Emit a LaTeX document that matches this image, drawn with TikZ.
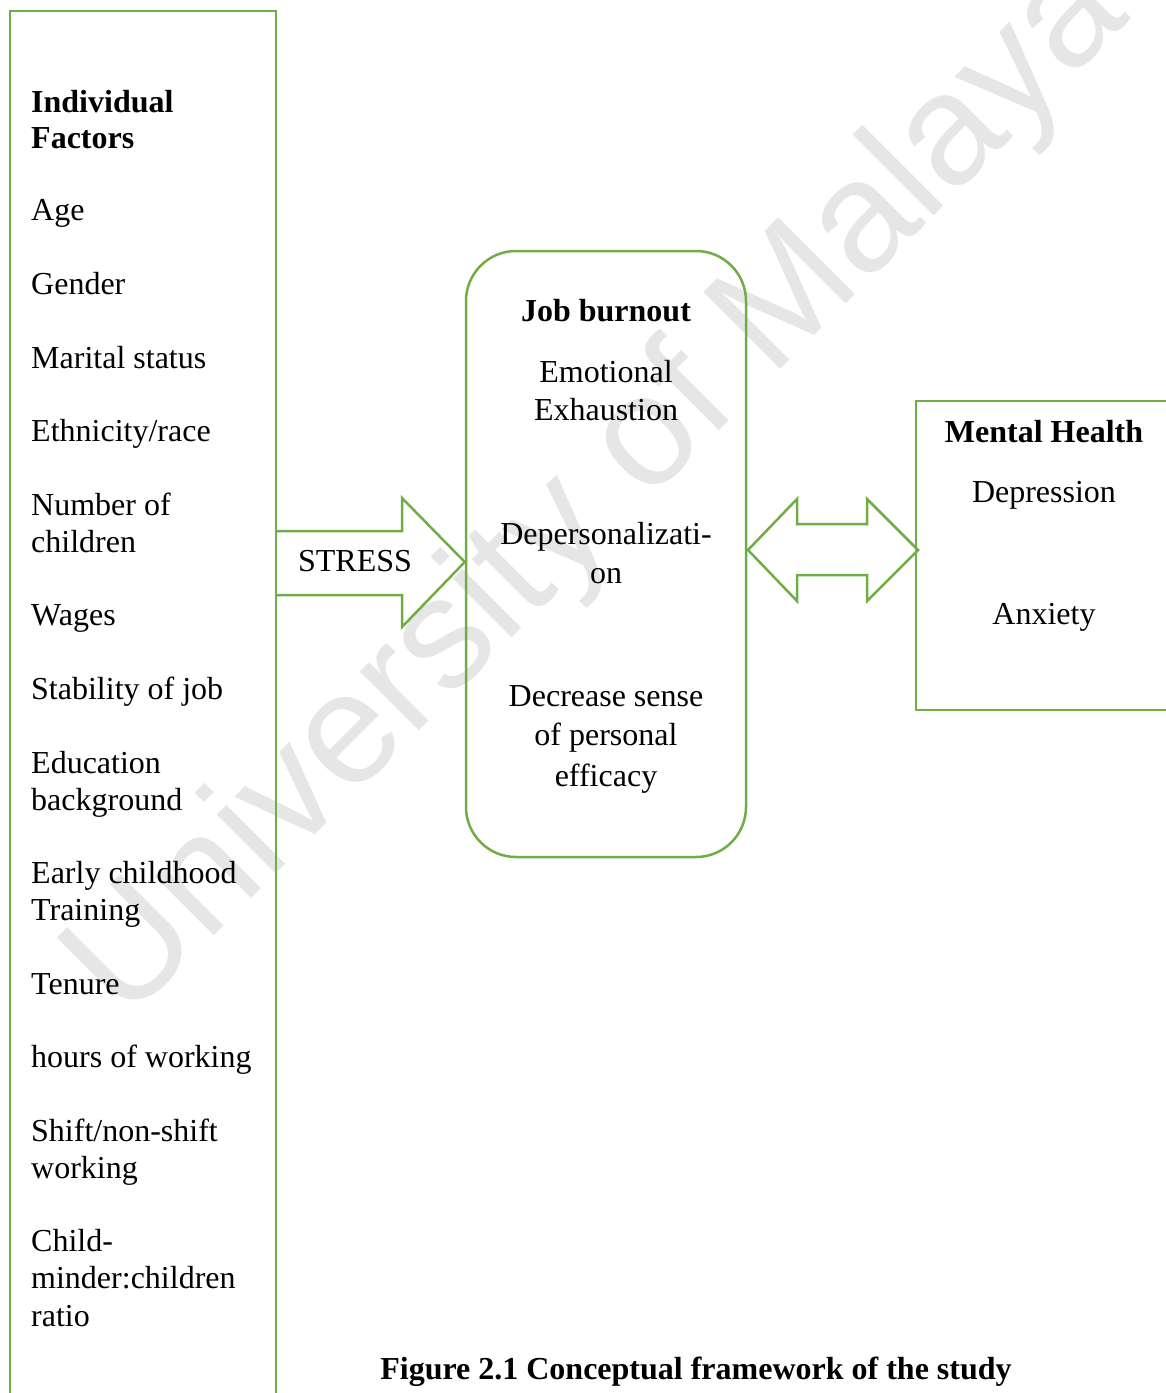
\documentclass[tikz,border=0pt]{standalone}
\usepackage{fontspec}
\setmainfont{Liberation Serif}
\newfontfamily\wmfont{Liberation Sans}
\definecolor{frame}{HTML}{70AD47}
\definecolor{wmgray}{HTML}{E6E6E6}

\begin{document}
\begin{tikzpicture}[x=1pt,y=-1pt,
  box/.style={draw=frame, line width=2.5pt},
  blockarrow/.style={draw=frame, line width=2.5pt, line join=miter},
  item/.style={anchor=base west, inner sep=0pt,
    font=\fontsize{32}{37.5}\selectfont},
  ctr/.style={anchor=base, inner sep=0pt,
    font=\fontsize{32}{39.5}\selectfont},
  headtxt/.style={font=\fontsize{32}{37}\selectfont\bfseries}]

\useasboundingbox (0,0) rectangle (1166,1393);
\clip (0,0) rectangle (1166,1393);

% watermark
\node[text=wmgray, font=\fontsize{158}{158}\wmfont, rotate=45, inner sep=0pt]
  (wm) at (600,492) {University of Malaya};

% individual factors column
\draw[box] (10,11) rectangle (276,1430);
\node[item, headtxt] (indf1) at (31,112) {Individual};
\node[item, headtxt] (indf2) at (31,148) {Factors};
\node[item] (age)     at (31,220)  {Age};
\node[item] (gender)  at (31,294)  {Gender};
\node[item] (marit)   at (31,368)  {Marital status};
\node[item] (ethn)    at (31,441)  {Ethnicity/race};
\node[item] (nchild1) at (31,515)  {Number of};
\node[item] (nchild2) at (31,552)  {children};
\node[item] (wages)   at (31,625)  {Wages};
\node[item] (stab)    at (31,699)  {Stability of job};
\node[item] (edu1)    at (31,773)  {Education};
\node[item] (edu2)    at (31,810)  {background};
\node[item] (early1)  at (31,883)  {Early childhood};
\node[item] (early2)  at (31,920)  {Training};
\node[item] (tenure)  at (31,994)  {Tenure};
\node[item] (hours)   at (31,1067) {hours of working};
\node[item] (shift1)  at (31,1141) {Shift/non-shift};
\node[item] (shift2)  at (31,1178) {working};
\node[item] (ratio1)  at (31,1251) {Child-};
\node[item] (ratio2)  at (31,1288) {minder:children};
\node[item] (ratio3)  at (31,1326) {ratio};

% job burnout box
\node[box, rounded corners=50pt, minimum width=280pt, minimum height=606pt,
  inner sep=0pt] (burnout) at (606,554) {};
\node[ctr, headtxt] (jbt) at (606,321) {Job burnout};
\node[ctr] (emo1) at (606,382) {Emotional};
\node[ctr] (emo2) at (606,420) {Exhaustion};
\node[ctr] (dep1) at (606,544) {Depersonalizati-};
\node[ctr] (dep2) at (606,583) {on};
\node[ctr] (eff1) at (606,706) {Decrease sense};
\node[ctr] (eff2) at (606,745) {of personal};
\node[ctr] (eff3) at (606,786) {efficacy};

% mental health box
\draw[box] (916,401) rectangle (1190,710);
\node[ctr, headtxt] (mht) at (1044,442) {Mental Health};
\node[ctr] (depr) at (1044,502) {Depression};
\node[ctr] (anx)  at (1044,624) {Anxiety};

% stress arrow into the burnout box
\coordinate (stip) at (burnout.west |- 0,562);
\draw[blockarrow] (277,531) -- (402,531) -- (402,498) -- (stip)
  -- (402,627) -- (402,595) -- (277,595);
\node[anchor=base, inner sep=0pt, font=\fontsize{32}{37}\selectfont]
  (stress) at (355,571) {STRESS};

% two-way arrow between burnout and mental health
\coordinate (ltip) at (748,550);
\coordinate (rtip) at (918,550);
\draw[blockarrow] (ltip) -- (797,499) -- (797,524) -- (867,524) -- (867,499)
  -- (rtip) -- (867,601) -- (867,575) -- (797,575) -- (797,601) -- cycle;

% caption
\node[anchor=base, inner sep=0pt, font=\fontsize{32}{37}\selectfont\bfseries]
  (cap) at (696,1379) {Figure 2.1 Conceptual framework of the study};
\end{tikzpicture}
\end{document}
